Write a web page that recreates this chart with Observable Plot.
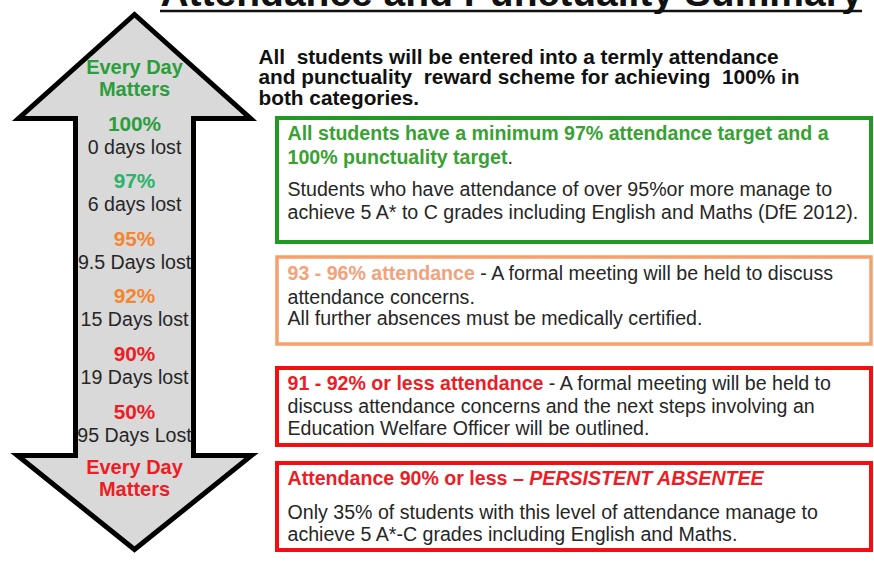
<!DOCTYPE html>
<html><head><meta charset="utf-8">
<script src="https://cdn.jsdelivr.net/npm/d3@7"></script>
<script src="https://cdn.jsdelivr.net/npm/@observablehq/plot@0.6"></script>
<style>body{margin:0;background:#fff;overflow:hidden}</style>
</head><body><div id="chart"></div>
<script>
// ---------- DATA ----------
const titleText = "Attendance and Punctuality Summary";
const arrowHeadline = ["Every Day", "Matters"];
const pctLabels = ["100%", "97%", "95%", "92%", "90%", "50%"];
const daysLost = ["0 days lost", "6 days lost", "9.5 Days lost", "15 Days lost", "19 Days lost", "95 Days Lost"];
const pctBand = ["green", "teal", "orange", "orange", "red", "red"];
const introLines = [
  "All  students will be entered into a termly attendance",
  "and punctuality  reward scheme for achieving  100% in",
  "both categories."
];
const boxBand = ["green", "orange", "red", "red"];
// each box: lines; each line: [text, role] segments
const boxLines = [
  [
    [["All students have a minimum 97% attendance target and a", "lead"]],
    [["100% punctuality target", "lead"], [".", "body"]],
    [["Students who have attendance of over 95%or more manage to", "body"]],
    [["achieve 5 A* to C grades including English and Maths (DfE 2012).", "body"]]
  ],
  [
    [["93 - 96% attendance", "lead"], [" - A formal meeting will be held to discuss", "body"]],
    [["attendance concerns.", "body"]],
    [["All further absences must be medically certified.", "body"]]
  ],
  [
    [["91 - 92% or less attendance", "lead"], [" - A formal meeting will be held to", "body"]],
    [["discuss attendance concerns and the next steps involving an", "body"]],
    [["Education Welfare Officer will be outlined.", "body"]]
  ],
  [
    [["Attendance 90% or less \u2013 ", "lead"], ["PERSISTENT ABSENTEE", "leadItalic"]],
    [["Only 35% of students with this level of attendance manage to", "body"]],
    [["achieve 5 A*-C grades including English and Maths.", "body"]]
  ]
];

// ---------- STYLE / LAYOUT ----------
const W = 874, H = 563;
const FONT = '"Liberation Sans", Arial, sans-serif';
const textColor = {green: "#2a9e3c", teal: "#2bb36b", orange: "#f5862f", red: "#ee1c25"};
const boxLeadColor = {green: "#37a232", orange: "#f6a178", red: "#ee1c25"};
const boxStroke = {green: "#1f9b22", orange: "#f8a06c", red: "#f01010"};
const boxStrokeWidth = {green: 4, orange: 3.5, red: 4};
const bodyColor = "#262626";

const cx = 134;                 // arrow centre
const shaftL = 75, shaftR = 193, headTopY = 14, wingTopY = 118, wingBotY = 455, headBotY = 549;
const wingL = 18, wingR = 250;
const arrowPts = [
  [cx, headTopY], [wingR, wingTopY], [shaftR, wingTopY], [shaftR, wingBotY], [wingR + 1, wingBotY],
  [cx, headBotY], [wingL - 1, wingBotY], [shaftL, wingBotY], [shaftL, wingTopY], [wingL, wingTopY]
].map(([x, y]) => ({x, y}));

const headTopYs = [73, 95];
const headBotYs = [473, 495];
const pctY0 = 130, pctStep = 57.6, daysOffset = 23;

const introX = 258, introY0 = 63, introStep = 20.8, introSize = 20.8;
const boxX1 = 277, boxX2 = 871;
const boxY = [[118, 242], [257, 344], [368, 445], [463, 550]];
const boxTextX = 287;
const boxLineY = [[139, 163, 195, 218], [279, 303, 324], [389, 412, 434], [484, 518, 540]];
const boxFontSize = 19.6;

// measure helper
const ctx = document.createElement("canvas").getContext("2d");
function measure(text, weight, style, size) {
  ctx.font = `${style} ${weight} ${size}px ${FONT}`;
  return ctx.measureText(text).width;
}
const roleFont = {
  lead: {weight: "bold", style: "normal"},
  leadItalic: {weight: "bold", style: "italic"},
  body: {weight: "normal", style: "normal"}
};

// build box segments
const segs = [];
boxLines.forEach((lines, b) => {
  lines.forEach((line, i) => {
    let x = boxTextX;
    line.forEach(([text, role]) => {
      const f = roleFont[role];
      segs.push({text, x, y: boxLineY[b][i], weight: f.weight, style: f.style,
        color: role === "body" ? bodyColor : boxLeadColor[boxBand[b]]});
      x += measure(text, f.weight, f.style, boxFontSize);
    });
  });
});

const arrowLabels = [];
arrowHeadline.forEach((t, i) => arrowLabels.push({text: t, y: headTopYs[i], color: textColor.green, weight: "bold", size: 20}));
arrowHeadline.forEach((t, i) => arrowLabels.push({text: t, y: headBotYs[i], color: textColor.red, weight: "bold", size: 20}));
pctLabels.forEach((t, i) => {
  arrowLabels.push({text: t, y: pctY0 + i * pctStep, color: textColor[pctBand[i]], weight: "bold", size: 20.8});
  arrowLabels.push({text: daysLost[i], y: pctY0 + i * pctStep + daysOffset, color: bodyColor, weight: "normal", size: 19.6});
});

const boxes = boxY.map(([y1, y2], b) => ({y1, y2, band: boxBand[b]}));
const intro = introLines.map((t, i) => ({text: t, y: introY0 + i * introStep}));

const marks = [
  Plot.text([titleText], {x: () => 511, y: () => 5, text: d => d, fontSize: 39, fontWeight: "bold", fill: "#111", textAnchor: "middle", lineAnchor: "bottom"}),
  Plot.ruleY([10.5], {x1: 160, x2: 862, stroke: "#111", strokeWidth: 2.5}),
  Plot.line(arrowPts, {x: "x", y: "y", curve: "linear-closed", fill: "#d9d9d9", stroke: "#000", strokeWidth: 5, strokeLinejoin: "miter", strokeMiterlimit: 10}),
  ...arrowLabels.map(d => Plot.text([d], {x: () => cx, y: "y", text: "text", fill: d.color, fontWeight: d.weight, fontSize: d.size, lineAnchor: "bottom", textAnchor: "middle"})),
  Plot.text(intro, {x: () => introX, y: "y", text: "text", fontWeight: "bold", fontSize: introSize, fill: "#111", textAnchor: "start", lineAnchor: "bottom"}),
  ...boxes.map(d => Plot.rect([d], {x1: () => boxX1, x2: () => boxX2, y1: "y1", y2: "y2", fill: "white", stroke: boxStroke[d.band], strokeWidth: boxStrokeWidth[d.band]})),
  ...segs.map(d => Plot.text([d], {x: "x", y: "y", text: "text", fill: d.color, fontWeight: d.weight, fontStyle: d.style, fontSize: boxFontSize, textAnchor: "start", lineAnchor: "bottom"}))
];

const chart = Plot.plot({
  width: W, height: H, margin: 0,
  x: {domain: [0, W], range: [0, W], axis: null},
  y: {domain: [0, H], range: [0, H], axis: null},
  style: {fontFamily: FONT, background: "white", overflow: "visible"},
  marks
});
document.getElementById("chart").append(chart);
</script>
</body></html>
